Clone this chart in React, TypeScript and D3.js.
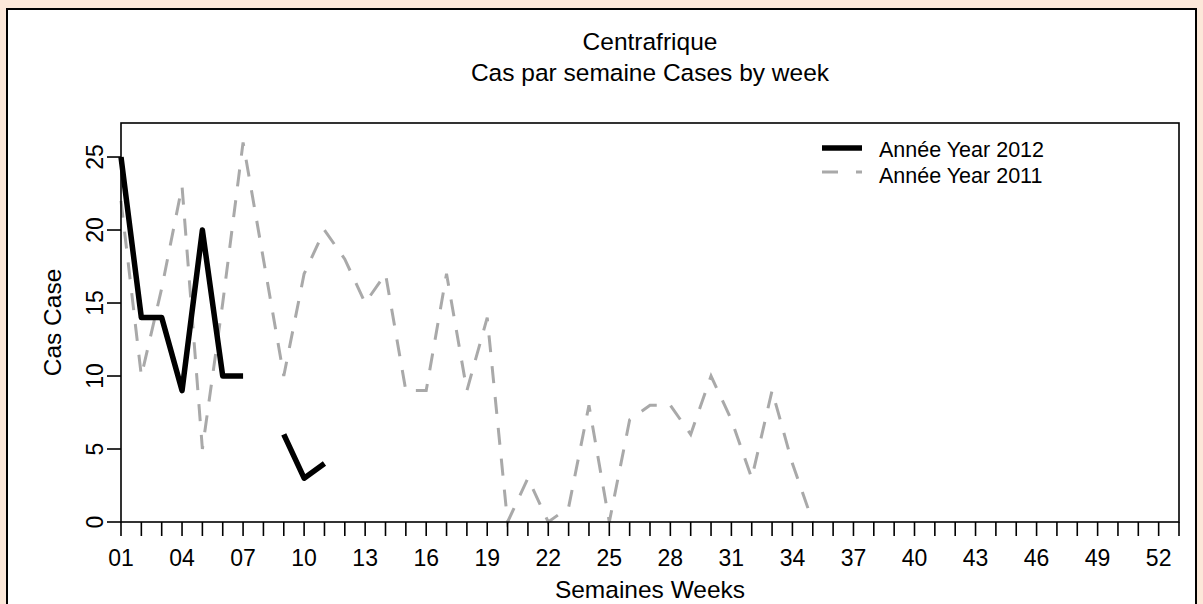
import * as d3 from 'd3'

// weekly case counts, Centrafrique
const weeks2012 = [1, 2, 3, 4, 5, 6, 7, 8, 9, 10, 11]
const cases2012: (number | null)[] = [25, 14, 14, 9, 20, 10, 10, null, 6, 3, 4]
const weeks2011 = [
  1, 2, 3, 4, 5, 6, 7, 8, 9, 10, 11, 12, 13, 14, 15, 16, 17, 18, 19, 20, 21, 22, 23, 24, 25, 26, 27, 28, 29, 30,
  31, 32, 33, 34, 35,
]
const cases2011 = [
  22, 10, 16, 23, 5, 15, 26, 18, 10, 17, 20, 18, 15, 17, 9, 9, 17, 9, 14, 0, 3, 0, 1, 8, 0, 7, 8, 8, 6, 10, 7, 3,
  9, 4, 0,
]
const yTicks = [0, 5, 10, 15, 20, 25]
const xTickWeeks = d3.range(1, 54)
const xLabelWeeks = d3.range(1, 53, 3)
const legendLabels = ['Année Year 2012', 'Année Year 2011']

const W = 1203
const H = 604
const margin = {top: 123, right: W - 1179, bottom: H - 522, left: 121}
const font = 'Arial, "Liberation Sans", sans-serif'

export default function App() {
  const x = d3.scaleLinear().domain([1, 53]).range([margin.left, W - margin.right])
  const y = d3.scaleLinear().domain([0, 27.33]).range([H - margin.bottom, margin.top])

  const line = d3
    .line<[number, number | null]>()
    .defined(d => d[1] !== null)
    .x(d => x(d[0]))
    .y(d => y(d[1] as number))

  const d2012 = line(weeks2012.map((w, i) => [w, cases2012[i]])) || ''
  const d2011 = line(weeks2011.map((w, i) => [w, cases2011[i]])) || ''

  const x0 = margin.left
  const x1 = W - margin.right
  const y0 = H - margin.bottom
  const y1 = margin.top
  const cx = (x0 + x1) / 2
  const cy = (y0 + y1) / 2

  return (
    <svg width={W} height={H} style={{position: 'absolute', left: 0, top: 0}} fontFamily={font}>
      <rect x={0} y={0} width={W} height={H} fill="#fce8d9" />
      <rect x={7} y={9} width={1189} height={640} fill="#fff" stroke="#000" strokeWidth={2} />

      <text x={cx} y={50} textAnchor="middle" fontSize={24.5}>
        Centrafrique
      </text>
      <text x={cx} y={81} textAnchor="middle" fontSize={24.5}>
        Cas par semaine Cases by week
      </text>

      <path d={d2011} fill="none" stroke="#a9a9a9" strokeWidth={3} strokeDasharray="17 14" />
      <path d={d2012} fill="none" stroke="#000" strokeWidth={5.5} strokeLinejoin="round" />

      <rect x={x0} y={y1} width={x1 - x0} height={y0 - y1} fill="none" stroke="#000" strokeWidth={1.6} />

      {xTickWeeks.map(w => (
        <line key={'xt' + w} x1={x(w)} x2={x(w)} y1={y0} y2={y0 + 14} stroke="#000" strokeWidth={1.6} />
      ))}
      {xLabelWeeks.map(w => (
        <text key={'xl' + w} x={x(w)} y={566} textAnchor="middle" fontSize={23}>
          {String(w).padStart(2, '0')}
        </text>
      ))}
      <text x={cx} y={598} textAnchor="middle" fontSize={24.5}>
        Semaines Weeks
      </text>

      {yTicks.map(v => (
        <g key={'yt' + v}>
          <line x1={x0 - 14} x2={x0} y1={y(v)} y2={y(v)} stroke="#000" strokeWidth={1.6} />
          <text transform={`translate(103,${y(v)}) rotate(-90)`} textAnchor="middle" fontSize={23}>
            {v}
          </text>
        </g>
      ))}
      <text transform={`translate(61,${cy}) rotate(-90)`} textAnchor="middle" fontSize={24.5}>
        Cas Case
      </text>

      <line x1={822} x2={862} y1={148} y2={148} stroke="#000" strokeWidth={5.5} />
      <line x1={822} x2={862} y1={172} y2={172} stroke="#a9a9a9" strokeWidth={3} strokeDasharray="16 18" />
      {legendLabels.map((t, i) => (
        <text key={t} x={879} y={157 + i * 26} fontSize={21.5}>
          {t}
        </text>
      ))}
    </svg>
  )
}
